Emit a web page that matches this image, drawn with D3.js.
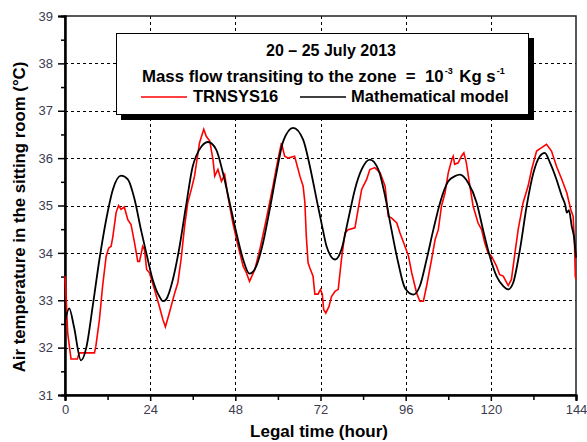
<!DOCTYPE html>
<html>
<head>
<meta charset="utf-8">
<script src="https://cdn.jsdelivr.net/npm/d3@7"></script>
<style>
  body { margin: 0; background: #fff; }
  svg { display: block; font-family: "Liberation Sans", Arial, sans-serif; }
  .tick text { fill: #3c3c50; font-size: 13px; }
</style>
</head>
<body>
<div id="chart"></div>
<script>
// hours, temperature (°C)
const modelHours = [0, 1.2, 2.5, 4.5, 6, 7.8, 9.7, 11.6, 13.5, 15.8, 17.7, 19.6, 21.4, 22.9, 24.7, 26.6, 27.6, 28.5, 30.4, 32.3, 34.1, 36.0,
    37.0, 38.5, 40.3, 42.6, 44.5, 46.4, 48.3, 50.2, 52.0, 53.9, 55.8, 57.7, 59.6, 61.5, 64.3, 67.1, 69.0, 70.9, 72.5, 73.7, 76.1, 77.9,
    79.8, 81.7, 83.6, 85.9, 88.3, 90.2, 92.0, 93.9, 95.8, 98.2, 100.0, 101.9, 103.8, 105.7, 108.0, 109.9, 111.3, 113.6, 116.0, 117.8,
    119.7, 121.6, 123.5, 124.9, 126.3, 128.2, 130.1, 132.0, 133.8, 135.2, 136.7, 138.5, 140.0, 141.0, 141.4, 142.0, 142.8, 143.5, 144];
const modelTemps = [32.55, 32.83, 32.45, 31.73, 32.0, 32.87, 33.86, 34.70, 35.34, 35.63, 35.55, 35.13, 34.49, 34.0, 33.44, 33.08, 32.98, 33.02, 33.44, 34.14, 34.99, 35.83,
    36.05, 36.25, 36.34, 36.18, 35.69, 35.06, 34.42, 33.86, 33.56, 33.72, 34.21, 34.92, 35.69, 36.36, 36.64, 36.39, 35.83, 35.13, 34.55, 34.14, 33.86, 34.07,
    34.70, 35.34, 35.76, 35.97, 35.76, 35.20, 34.49, 33.79, 33.26, 33.12, 33.30, 33.86, 34.49, 35.06, 35.51, 35.62, 35.65, 35.48, 35.06, 34.49,
    33.93, 33.51, 33.30, 33.23, 33.37, 34.07, 34.99, 35.69, 36.04, 36.11, 35.90, 35.55, 35.20, 35.0, 34.85, 34.9, 34.56, 34.3, 33.9];

const trnsysHours = [0, 0.3, 0.75, 1.7, 3.5, 4.0, 8.3, 8.7, 9.7, 10.6, 11.6, 12.3, 13.0, 13.5, 14.4, 15.1, 15.8, 16.7, 17.7, 18.6, 19.6, 20.5, 21.0,
    21.9, 22.4, 23.0, 23.8, 25.2, 26.6, 27.6, 28.3, 29.4, 30.9, 31.8, 32.7, 33.7, 34.6, 35.6, 36.5, 37.9, 39.1, 39.8, 40.8, 41.7, 42.2, 43.1,
    44.1, 45.0, 45.9, 47.3, 48.8, 50.2, 51.1, 52.0, 53.5, 54.9, 56.7, 58.6, 60.0, 61.0, 61.9, 62.9, 64.7, 66.2, 67.1, 67.6, 68.0, 68.5, 69.0,
    69.9, 70.4, 71.3, 72.0, 72.5, 72.9, 73.5, 74.4, 75.1, 76.1, 77.0, 77.9, 78.9, 79.8, 81.7, 82.6, 83.6, 85.0, 85.9, 87.3, 88.8, 90.2, 91.1,
    92.0, 93.5, 94.4, 95.8, 96.8, 97.7, 99.1, 100.0, 101.0, 101.9, 103.3, 104.3, 105.2, 106.1, 107.1, 108.0, 109.0, 109.4, 109.8, 110.8,
    111.7, 112.4, 113.1, 114.1, 115.0, 116.4, 117.4, 118.3, 119.2, 120.2, 121.6, 122.5, 123.5, 124.9, 125.8, 126.8, 127.7, 129.1, 130.5,
    131.5, 132.9, 134.3, 135.7, 137.1, 138.5, 140.0, 141.4, 142.5, 143.2, 143.6, 143.8, 144];
const trnsysTemps = [33.51, 33.1, 32.31, 31.76, 31.76, 31.89, 31.89, 32.03, 32.59, 33.30, 33.93, 34.1, 34.14, 34.35, 34.85, 35.0, 34.92, 34.97, 34.70, 34.6, 34.21, 33.82, 33.82,
    34.14, 34.07, 33.65, 33.58, 33.23, 32.87, 32.59, 32.44, 32.73, 33.15, 33.37, 33.86, 34.56, 35.06, 35.34, 35.62, 36.32, 36.61, 36.46, 36.36, 35.97, 35.62, 35.76,
    35.51, 35.65, 35.2, 34.63, 34.14, 33.72, 33.58, 33.40, 33.65, 34.07, 34.70, 35.41, 35.97, 36.32, 36.04, 36.0, 36.04, 35.62, 35.41, 35.06, 34.35, 33.79, 33.68,
    33.51, 33.13, 33.13, 33.23, 33.13, 32.8, 32.73, 32.87, 33.08, 33.19, 33.23, 33.86, 34.42, 34.49, 34.53, 34.92, 35.34, 35.55, 35.76, 35.80, 35.69, 35.41, 34.77,
    34.74, 34.63, 34.42, 34.14, 33.93, 33.58, 33.15, 32.98, 32.98, 33.30, 33.86, 34.28, 34.49, 34.99, 35.27, 35.69, 35.97, 36.04, 35.87, 35.9,
    36.04, 36.11, 35.9, 35.41, 34.99, 34.63, 34.49, 34.21, 34.0, 33.93, 33.72, 33.54, 33.51, 33.31, 33.44, 34.0, 34.49, 35.06, 35.41,
    35.76, 36.15, 36.22, 36.29, 36.15, 35.83, 35.55, 35.27, 34.92, 34.77, 34.14, 33.51, 33.44];

const xTicks = [0, 24, 48, 72, 96, 120, 144];
const yTicks = [31, 32, 33, 34, 35, 36, 37, 38, 39];

const width = 587, height = 442;
const margin = {left: 65, right: 11, top: 16, bottom: 47};

const svg = d3.select("#chart").append("svg")
    .attr("width", width).attr("height", height);

const x = d3.scaleLinear().domain([0, 144]).range([margin.left, width - margin.right]);
const y = d3.scaleLinear().domain([31, 39]).range([height - margin.bottom, margin.top]);

// grid
const grid = svg.append("g").attr("stroke", "#000").attr("stroke-width", 1)
    .attr("stroke-dasharray", "3,3");
grid.selectAll(".gx").data(xTicks.slice(1, -1)).join("line")
    .attr("x1", d => Math.round(x(d)) + 0.5).attr("x2", d => Math.round(x(d)) + 0.5)
    .attr("y1", y(39)).attr("y2", y(31));
grid.selectAll(".gy").data(yTicks.slice(1, -1)).join("line")
    .attr("y1", d => Math.round(y(d)) + 0.5).attr("y2", d => Math.round(y(d)) + 0.5)
    .attr("x1", x(0)).attr("x2", x(144));

// frame
svg.append("rect")
    .attr("x", x(0)).attr("y", y(39))
    .attr("width", x(144) - x(0)).attr("height", y(31) - y(39))
    .attr("fill", "none").attr("stroke", "#222").attr("stroke-width", 1.5);

// axes
svg.append("g").attr("transform", `translate(0,${y(31)})`)
    .call(d3.axisBottom(x).tickValues(xTicks).tickSize(6).tickPadding(4));
svg.append("g").attr("transform", `translate(0,${y(31)})`)
    .call(d3.axisBottom(x).tickValues(d3.range(12, 144, 24)).tickSize(5).tickFormat(""));
svg.append("g").attr("transform", `translate(${x(0)},0)`)
    .call(d3.axisLeft(y).tickValues(yTicks).tickSize(7).tickPadding(5));
svg.append("g").attr("transform", `translate(${x(0)},0)`)
    .call(d3.axisLeft(y).tickValues(d3.range(31.5, 39, 1)).tickSize(4).tickFormat(""));
svg.selectAll(".domain").attr("stroke", "#000").attr("stroke-width", 2);
svg.selectAll(".tick line").attr("stroke", "#000").attr("stroke-width", 1.5);
svg.selectAll(".tick text").attr("font-family", "Liberation Sans, Arial, sans-serif");

// series
const line = d3.line().x(d => x(d[0])).y(d => y(d[1]));
svg.append("path")
    .datum(d3.zip(trnsysHours, trnsysTemps))
    .attr("fill", "none").attr("stroke", "#ff0000").attr("stroke-width", 1.6)
    .attr("d", line);
svg.append("path")
    .datum(d3.zip(modelHours, modelTemps))
    .attr("fill", "none").attr("stroke", "#000").attr("stroke-width", 1.8)
    .attr("d", d3.line().curve(d3.curveMonotoneX).x(d => x(d[0])).y(d => y(d[1])));

// axis titles
svg.append("text")
    .attr("x", 319).attr("y", 437)
    .attr("text-anchor", "middle")
    .attr("font-size", 17).attr("font-weight", "bold")
    .text("Legal time (hour)");
svg.append("text")
    .attr("transform", `translate(25,217) rotate(-90)`)
    .attr("text-anchor", "middle")
    .attr("font-size", 16.8).attr("font-weight", "bold")
    .text("Air temperature in the sitting room (°C)");

// legend box with shadow
const lg = svg.append("g");
lg.append("rect").attr("x", 121).attr("y", 38).attr("width", 413).attr("height", 82).attr("fill", "#000");
lg.append("rect").attr("x", 116.5).attr("y", 33.5).attr("width", 412).attr("height", 81)
    .attr("fill", "#fff").attr("stroke", "#000").attr("stroke-width", 1);

lg.append("text").attr("x", 331).attr("y", 56).attr("text-anchor", "middle")
    .attr("font-size", 16).attr("font-weight", "bold")
    .text("20 \u2013 25 July 2013");

const t2 = lg.append("text").attr("x", 142).attr("y", 82)
    .attr("font-size", 16.8).attr("font-weight", "bold")
    .attr("xml:space", "preserve");
t2.append("tspan").text("Mass flow transiting to the zone  =  10");
t2.append("tspan").attr("dy", -8).attr("dx", 1).attr("font-size", 9).text("-3");
t2.append("tspan").attr("dy", 8).attr("dx", 2).text(" Kg s");
t2.append("tspan").attr("dy", -8).attr("dx", 1).attr("font-size", 9).text("-1");

lg.append("line").attr("x1", 141).attr("x2", 187).attr("y1", 97).attr("y2", 97)
    .attr("stroke", "#ff0000").attr("stroke-width", 1.5);
lg.append("text").attr("x", 193).attr("y", 102)
    .attr("font-size", 16.5).attr("font-weight", "bold").text("TRNSYS16");
lg.append("line").attr("x1", 300).attr("x2", 346).attr("y1", 97).attr("y2", 97)
    .attr("stroke", "#000").attr("stroke-width", 1.5);
lg.append("text").attr("x", 351).attr("y", 102)
    .attr("font-size", 16.5).attr("font-weight", "bold").text("Mathematical model");
</script>
</body>
</html>
